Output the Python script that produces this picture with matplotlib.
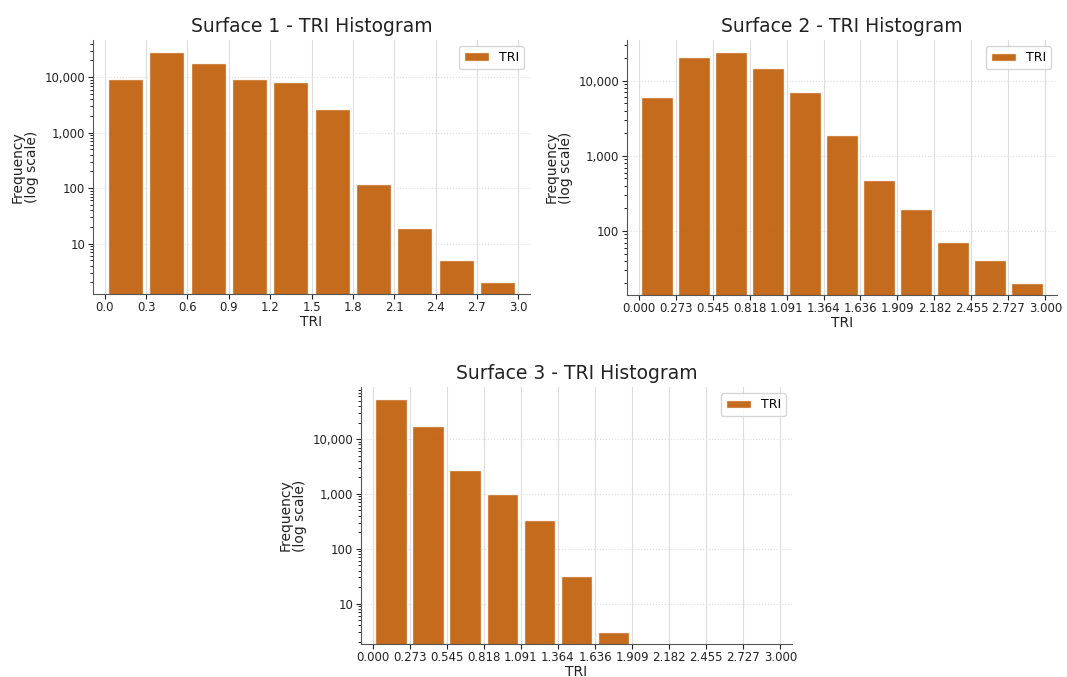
import numpy as np
import matplotlib
matplotlib.use("Agg")
import matplotlib.pyplot as plt
from matplotlib.ticker import FuncFormatter

# TRI histogram counts per surface
surface1_edges = [0.0, 0.3, 0.6, 0.9, 1.2, 1.5, 1.8, 2.1, 2.4, 2.7, 3.0]
surface1_counts = [9300, 29000, 18000, 9200, 8200, 2700, 121, 19, 5, 2]

surface2_edges = list(np.linspace(0.0, 3.0, 12))
surface2_counts = [6100, 21000, 24500, 14900, 7100, 1900, 483, 194, 71, 41, 20]

surface3_edges = list(np.linspace(0.0, 3.0, 12))
surface3_counts = [54500, 17300, 2680, 1000, 340, 32, 3, 0, 0, 0, 0]

surface1_ticklabels = [f"{e:.1f}" for e in surface1_edges]
surface2_ticklabels = [f"{e:.3f}" for e in surface2_edges]
surface3_ticklabels = [f"{e:.3f}" for e in surface3_edges]

BAR_COLOR = "#BF5B04"
W, H = 1067, 677

fig = plt.figure(figsize=(W / 100, H / 100), dpi=100)


def px_rect(left, top, right, bottom):
    return [left / W, 1 - bottom / H, (right - left) / W, (bottom - top) / H]


panels = [
    ("Surface 1 - TRI Histogram", surface1_edges, surface1_counts, surface1_ticklabels,
     px_rect(93, 40, 530, 294)),
    ("Surface 2 - TRI Histogram", surface2_edges, surface2_counts, surface2_ticklabels,
     px_rect(627, 40, 1057, 295)),
    ("Surface 3 - TRI Histogram", surface3_edges, surface3_counts, surface3_ticklabels,
     px_rect(361, 387, 792, 644)),
]


def thousands(v, pos):
    return f"{v:,.0f}"


for title, edges, counts, ticklabels, rect in panels:
    ax = fig.add_axes(rect)
    edges = np.asarray(edges)
    counts = np.asarray(counts, dtype=float)
    binw = np.diff(edges)
    centers = edges[:-1] + binw / 2
    heights = np.where(counts > 0, counts, np.nan)
    ax.bar(centers, heights, width=binw * 0.85, color=BAR_COLOR, alpha=0.9,
           edgecolor="white", linewidth=1.0, label="TRI", zorder=2)
    ax.set_yscale("log")
    ax.yaxis.set_major_formatter(FuncFormatter(thousands))
    ax.set_xticks(edges)
    ax.set_xticklabels(ticklabels)
    ax.set_xlim(edges[0] - 0.085, edges[-1] + 0.085)
    ax.tick_params(axis="both", labelsize=8.5, colors="#222222")
    ax.tick_params(axis="x", pad=1.5)
    ax.tick_params(axis="y", pad=2)
    ax.tick_params(axis="y", which="minor", length=2)
    ax.grid(True, axis="x", color="#dddddd", linewidth=0.8, zorder=0)
    ax.grid(True, axis="y", which="major", color="#dddddd", linestyle=":", linewidth=0.8, zorder=0)
    ax.set_axisbelow(True)
    for side in ("top", "right"):
        ax.spines[side].set_visible(False)
    for side in ("left", "bottom"):
        ax.spines[side].set_color("#555555")
    ax.set_title(title, fontsize=13.5, color="#222222", pad=6)
    ax.set_xlabel("TRI", fontsize=10, labelpad=0.5, color="#222222")
    ax.set_ylabel("Frequency\n(log scale)", fontsize=10, color="#222222", linespacing=1.0,
                  labelpad=4)
    ax.legend(loc="upper right", fontsize=9, framealpha=0.8)

fig.savefig("out.png", dpi=100)
